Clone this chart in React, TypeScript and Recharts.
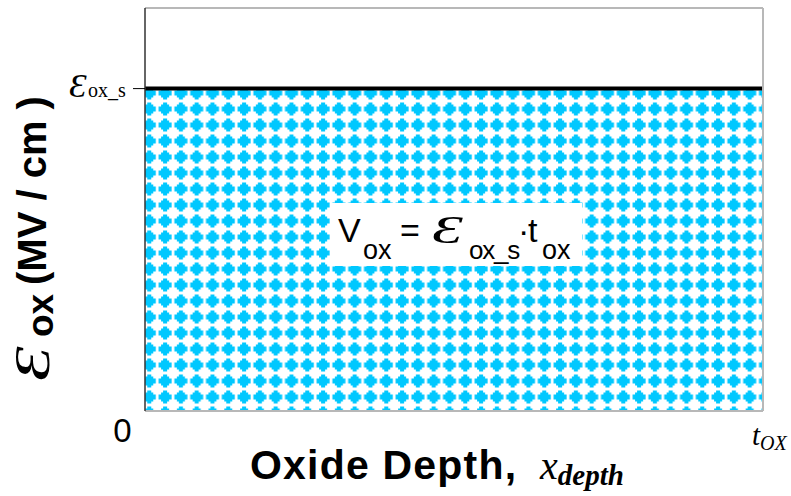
import React from "react";
import { AreaChart, Area, XAxis, YAxis, Label, ReferenceLine } from "recharts";

// field profile: constant field across the oxide, x normalised to t_ox
const depthPoints = [0, 1];
const fieldValues = [4, 4];
const fieldDomain = [0, 5];
const xTicks = [0, 1];
const yTicks = [4];

const data = depthPoints.map((x, i) => ({ x, field: fieldValues[i] }));

const SANS = "'Liberation Sans', Arial, sans-serif";
const SERIF = "'Liberation Serif', 'Times New Roman', serif";
const CYAN = "#00c8ff";
const FRAME = "#b8b8b8";
const EPS = "Ɛ";

// wide script-style epsilon, stretched horizontally
function Eps({ x, y, size, sx }: { x: number; y: number; size: number; sx: number }) {
  return (
    <text
      transform={`translate(${x}, ${y}) scale(${sx}, 1)`}
      fontFamily={SERIF}
      fontStyle="italic"
      fontWeight="normal"
      fontSize={size}
      fill="#000"
    >
      {EPS}
    </text>
  );
}

function XTick(props: any) {
  const { x, payload } = props;
  if (payload.value === 0) {
    return (
      <text x={x - 22.5} y={442} textAnchor="middle" fontFamily={SANS} fontSize={33} fill="#000">
        0
      </text>
    );
  }
  return (
    <text x={x - 11} y={445} fontFamily={SERIF} fontStyle="italic" fontSize={29} fill="#000">
      t
      <tspan dy={5} fontSize={20}>
        OX
      </tspan>
    </text>
  );
}

function YTick(props: any) {
  const { y } = props;
  return (
    <g>
      <Eps x={69} y={y + 8.5} size={34} sx={1.05} />
      <text x={88} y={y + 8.5} fontFamily={SERIF} fontSize={20} fill="#000">
        ox_s
      </text>
    </g>
  );
}

function YTitle() {
  return (
    <g transform="translate(46, 381) rotate(-90)" fontFamily={SANS} fontWeight="bold" fill="#000">
      <Eps x={0} y={3} size={50} sx={1.4} />
      <text x={44} y={7} fontSize={37}>
        ox
      </text>
      <text x={96} y={0} fontSize={40}>
        (MV / cm )
      </text>
    </g>
  );
}

function XTitle() {
  return (
    <text x={250} y={479} fill="#000">
      <tspan fontFamily={SANS} fontWeight="bold" fontSize={41} letterSpacing={1.2}>
        Oxide Depth,
      </tspan>
      <tspan x={540} fontFamily={SERIF} fontStyle="italic" fontSize={40}>
        x
      </tspan>
      <tspan dy={6} fontFamily={SERIF} fontStyle="italic" fontWeight="bold" fontSize={29}>
        depth
      </tspan>
    </text>
  );
}

function Equation() {
  const base = 242;
  const sub = 259;
  return (
    <svg width={791} height={496} style={{ position: "absolute", left: 0, top: 0, pointerEvents: "none" }}>
      <rect x={331} y={203} width={251} height={63} fill="#fff" />
      <g fontFamily={SANS} fill="#000">
        <text x={338} y={base} fontSize={34}>V</text>
        <text x={363} y={sub} fontSize={27}>ox</text>
        <text x={400} y={base} fontSize={34}>=</text>
        <text x={469} y={sub} fontSize={26} letterSpacing={-1.2}>ox_s</text>
        <text x={518} y={base} fontSize={34}>·</text>
        <text x={528} y={base} fontSize={34}>t</text>
        <text x={542} y={sub} fontSize={27}>ox</text>
      </g>
      <Eps x={432} y={243} size={39} sx={1.6} />
    </svg>
  );
}

export default function App() {
  return (
    <div style={{ position: "absolute", left: 0, top: 0, width: 791, height: 496, background: "#fff" }}>
      <AreaChart width={791} height={496} data={data} margin={{ top: 8, right: 28, bottom: 0, left: 0 }}>
        <defs>
          <pattern id="diamonds" patternUnits="userSpaceOnUse" x={141.3} y={85} width={15.8} height={16}>
            <rect width={15.8} height={16} fill="#fff" />
            <polygon
              fill={CYAN}
              points="6,1.5 10,1.5 10,3.5 12,3.5 12,5.5 14.5,5.5 14.5,10.5 12,10.5 12,12.5 10,12.5 10,14.5 6,14.5 6,12.5 4,12.5 4,10.5 1.5,10.5 1.5,5.5 4,5.5 4,3.5 6,3.5"
            />
          </pattern>
        </defs>
        <XAxis
          dataKey="x"
          type="number"
          domain={[0, 1]}
          ticks={xTicks}
          tick={<XTick />}
          tickLine={false}
          axisLine={{ stroke: FRAME, strokeWidth: 2 }}
          height={85}
        >
          <Label content={<XTitle />} />
        </XAxis>
        <YAxis
          domain={fieldDomain}
          ticks={yTicks}
          tick={<YTick />}
          tickSize={12}
          tickLine={{ stroke: "#000", strokeWidth: 1 }}
          axisLine={{ stroke: "#333", strokeWidth: 1.5 }}
          width={145}
        >
          <Label content={<YTitle />} />
        </YAxis>
        <Area
          type="linear"
          dataKey="field"
          stroke="#000"
          strokeWidth={4}
          fill="url(#diamonds)"
          fillOpacity={1}
          dot={false}
          activeDot={false}
          isAnimationActive={false}
        />
        {/* plot frame: top and right edges */}
        <ReferenceLine y={5} stroke={FRAME} strokeWidth={2} />
        <ReferenceLine x={1} stroke={FRAME} strokeWidth={2} />
      </AreaChart>
      <Equation />
    </div>
  );
}
